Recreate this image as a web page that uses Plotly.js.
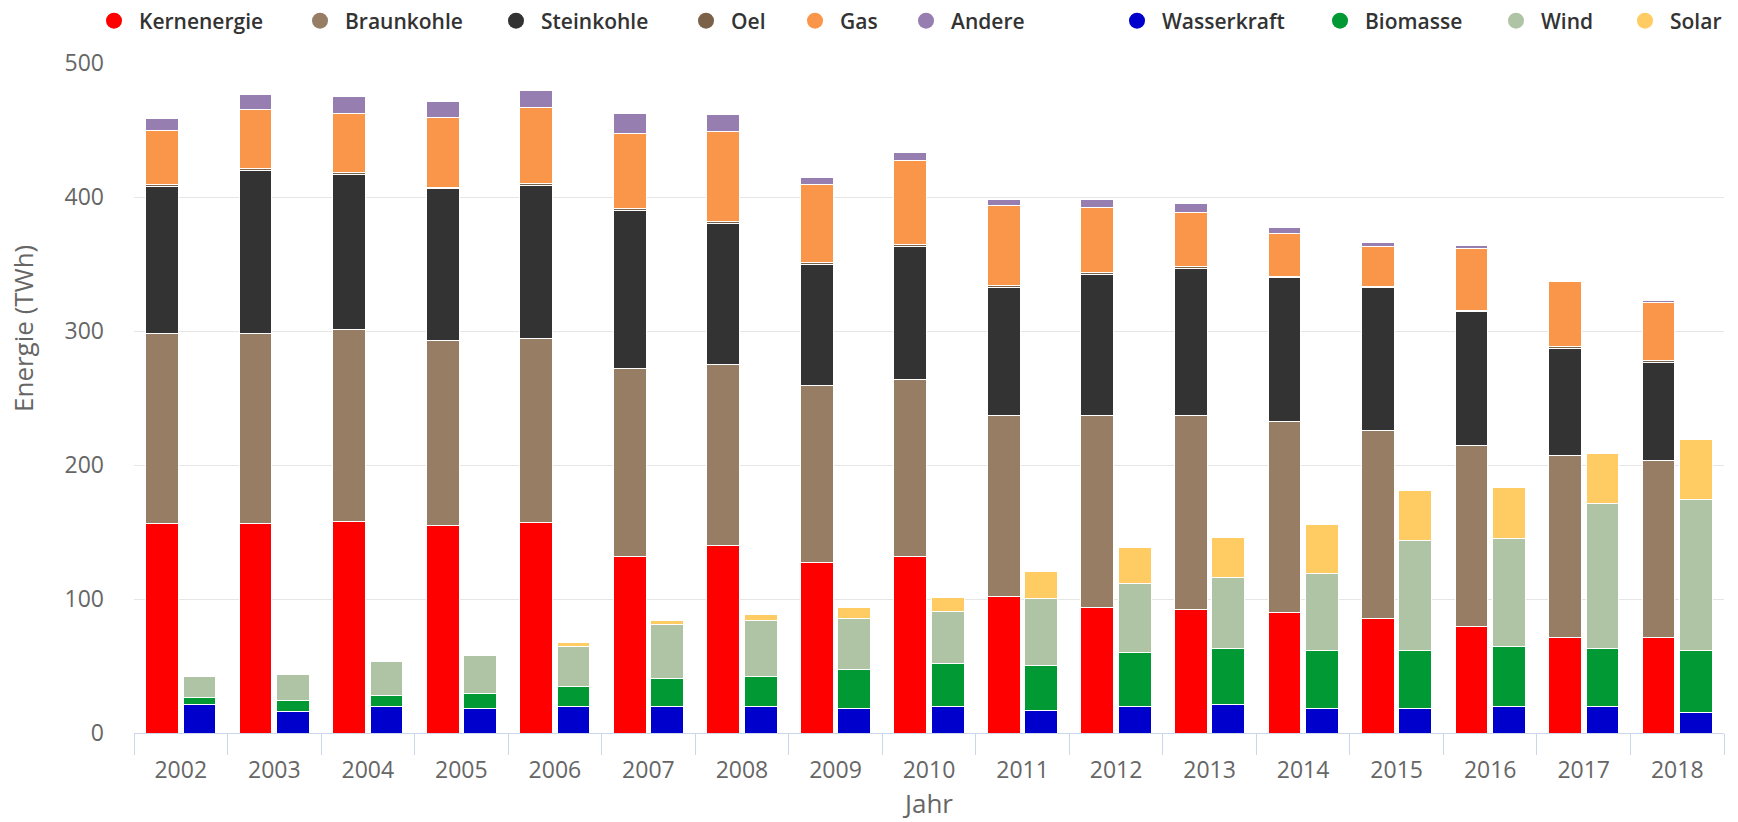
<!DOCTYPE html>
<html><head><meta charset="utf-8">
<script src="https://cdn.plot.ly/plotly-3.0.1.min.js"></script>
<style>html,body{margin:0;padding:0;background:#fff;} #chart{width:1738px;height:822px;}</style>
</head><body><div id="chart"></div>
<script>
// ---- data (TWh) ----
const years = ['2002','2003','2004','2005','2006','2007','2008','2009','2010','2011','2012','2013','2014','2015','2016','2017','2018'];

const kernenergie = [156, 156, 157.5, 154.5, 157, 132, 140, 127.4, 132, 101.7, 93.5, 91.8, 90.3, 85.6, 79.3, 71.1, 71.1];
const braunkohle  = [142.3, 142.3, 143.7, 138.3, 137.3, 140, 135.1, 132.3, 131.8, 135.6, 143.8, 145.5, 142, 140.5, 135.6, 135.9, 132.6];
const steinkohle  = [109.4, 121.8, 115.8, 113.2, 114.5, 117.7, 104.9, 90.1, 99, 95.3, 105, 109.5, 107.7, 106, 99.5, 80.1, 72.6];
const oel         = [1.5, 1, 1, 1.2, 1.5, 1.5, 1.5, 1.5, 1.5, 1.5, 1, 1.5, 1, 1, 1, 1.5, 1.5];
const gas         = [40.8, 44.3, 44.2, 51.8, 56.4, 56.2, 67.5, 58.1, 62.7, 59.4, 48.5, 40.3, 31.4, 29.6, 45.8, 48.2, 43.3];
const andere      = [8.7, 11.2, 12.9, 12.6, 12.7, 14.7, 12.9, 4.8, 5.9, 4.7, 6.2, 6.2, 4.5, 3.5, 2.7, 0, 1.5];

const wasserkraft = [21.6, 16.4, 19.9, 18.4, 19.9, 20.1, 20.1, 18.4, 20.1, 16.6, 20.1, 21.6, 18.4, 18.4, 20.1, 20.1, 15.2];
const biomasse    = [4.8, 8.2, 8, 11.2, 14.7, 20.7, 22.4, 29.1, 31.9, 33.9, 39.8, 41.6, 43.5, 43.5, 44.8, 43.1, 46.7];
const wind        = [15.6, 19.2, 25.8, 28.6, 30.1, 40, 41.8, 38.3, 38.5, 50, 51.8, 53, 57.3, 81.6, 80.4, 107.7, 112];
const solar       = [0, 0, 0, 0, 2.6, 3, 4.5, 7.7, 10.7, 20.1, 26.9, 29.8, 36.5, 37.8, 37.8, 37.8, 44.8];

const yTicks = [0, 100, 200, 300, 400, 500];

// ---- series definitions ----
const conventional = [
  {name:'Kernenergie', values:kernenergie, color:'#ff0000'},
  {name:'Braunkohle',  values:braunkohle,  color:'#977d64'},
  {name:'Steinkohle',  values:steinkohle,  color:'#333333'},
  {name:'Oel',         values:oel,         color:'#7a6148'},
  {name:'Gas',         values:gas,         color:'#f9964a'},
  {name:'Andere',      values:andere,      color:'#977eb0'}
];
const renewable = [
  {name:'Wasserkraft', values:wasserkraft, color:'#0000cc'},
  {name:'Biomasse',    values:biomasse,    color:'#009933'},
  {name:'Wind',        values:wind,        color:'#afc4a5'},
  {name:'Solar',       values:solar,       color:'#ffcb63'}
];

// legend marker centres (px in the 1738-wide page)
const legendCenters = [114, 320, 516, 706, 815, 926, 1137, 1340, 1516, 1645];

const FONT = 'Open Sans, Lato, sans-serif';
const BAR_W = 0.35, OFF = 0.2;
const traces = [];

function addStack(series, offset) {
  series.forEach(s => {
    traces.push({
      type:'bar', name:s.name,
      x: years.map((_, i) => i + offset),
      y: s.values,
      width: BAR_W,
      marker:{color:s.color, line:{color:'#ffffff', width:1}},
      showlegend:false,
      hovertemplate: s.name + ' %{customdata}: %{y} TWh<extra></extra>',
      customdata: years
    });
  });
}
addStack(conventional, -OFF);
addStack(renewable, OFF);

// legend-only circle markers
const all = conventional.concat(renewable);
const layout = {
  width:1738, height:822,
  margin:{l:134, r:14, t:63, b:89},
  paper_bgcolor:'#ffffff', plot_bgcolor:'#ffffff',
  barmode:'stack',
  font:{family:FONT, color:'#666666'},
  xaxis:{
    range:[-0.5, years.length - 0.5],
    tickmode:'array',
    tickvals: years.map((_, i) => i),
    ticktext: years,
    ticks:'',
    showgrid:false, zeroline:false,
    showline:true, linecolor:'#ccd6eb', linewidth:1,
    tickfont:{family:FONT, size:23, color:'#666666'},
    ticklabelstandoff:16,
    minor:{tickmode:'linear', tick0:0.5, dtick:1, ticks:'outside', ticklen:21, tickcolor:'#ccd6eb', tickwidth:1, showgrid:false},
    title:{text:'Jahr', font:{family:FONT, size:26, color:'#666666'}, standoff:8},
    fixedrange:true
  },
  yaxis:{
    range:[0, 500],
    tickmode:'array', tickvals:yTicks,
    ticks:'', showline:false, zeroline:false,
    showgrid:true, gridcolor:'#e6e6e6', gridwidth:1,
    tickfont:{family:FONT, size:23, color:'#666666'},
    ticklabelstandoff:29,
    fixedrange:true
  },
  annotations:[{
    text:'Energie (TWh)', textangle:-90,
    xref:'paper', yref:'paper',
    x:(23-134)/(1724-134), y:(733-329)/(733-63),
    xanchor:'center', yanchor:'middle', showarrow:false,
    font:{family:FONT, size:26, color:'#666666'}
  }],
  showlegend:true
};

all.forEach((s, k) => {
  const key = k === 0 ? 'legend' : 'legend' + (k + 1);
  traces.push({
    type:'scatter', mode:'markers', name:s.name,
    x:[null], y:[null],
    marker:{color:s.color, size:20, symbol:'circle'},
    showlegend:true, legend:key, hoverinfo:'skip'
  });
  layout[key] = {
    xref:'container', yref:'container',
    x:(legendCenters[k] - 25) / 1738, y:1 - 21/822,
    xanchor:'left', yanchor:'middle',
    orientation:'h', itemwidth:40,
    bgcolor:'rgba(0,0,0,0)', borderwidth:0,
    font:{family:FONT, size:21, color:'#333333', weight:600},
    itemclick:false, itemdoubleclick:false
  };
});

Plotly.newPlot('chart', traces, layout, {displayModeBar:false, staticPlot:false});
</script></body></html>
